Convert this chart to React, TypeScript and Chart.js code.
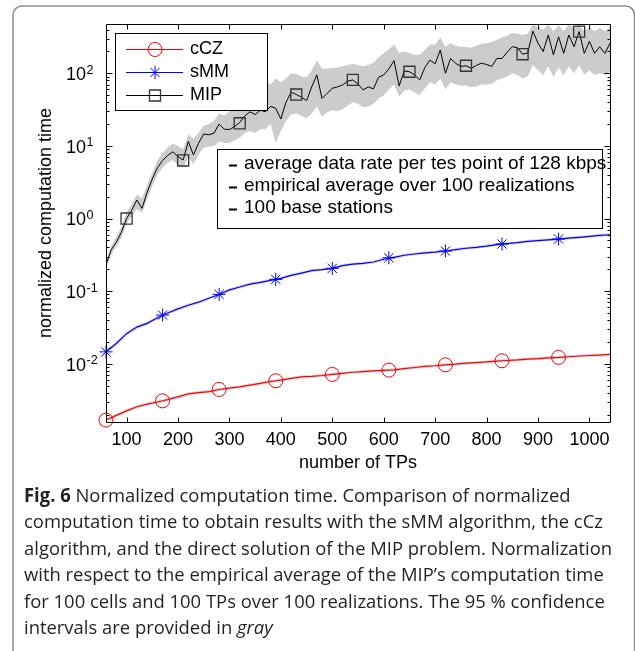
import React, { useEffect, useRef } from "react";
import { Chart, registerables } from "chart.js";

Chart.register(...registerables);

// ---------- data ----------
const tpMip = [
  60, 70, 80, 90, 100, 110, 120, 130, 140, 150, 160, 170, 180, 190, 200, 210, 220, 230, 240, 250,
  260, 270, 280, 290, 300, 310, 320, 330, 340, 350, 360, 370, 380, 390, 400, 410, 420, 430, 440, 450,
  460, 470, 480, 490, 500, 510, 520, 530, 540, 550, 560, 570, 580, 590, 600, 610, 620, 630, 640, 650,
  660, 670, 680, 690, 700, 710, 720, 730, 740, 750, 760, 770, 780, 790, 800, 810, 820, 830, 840, 850,
  860, 870, 880, 890, 900, 910, 920, 930, 940, 950, 960, 970, 980, 990, 1000, 1010, 1020, 1030, 1040,
];
const mipMean = [
  0.23, 0.37, 0.47, 0.65, 1.0, 1.3, 1.8, 1.38, 2.3, 3.5, 5.0, 6.3, 7.4, 8.3, 7.1, 6.4, 11.5, 7.5, 10.9, 14.6,
  14.2, 15.0, 20, 17, 16.8, 18.5, 21, 26, 29.5, 27, 31, 29.5, 35, 33, 23.5, 40, 55, 51, 47, 42,
  65, 95, 45, 53, 62, 65, 69, 78, 81, 71, 59, 65, 61, 88, 95, 115, 149, 67, 108, 105,
  95, 81, 120, 152, 135, 209, 100, 160, 137, 124, 127, 117, 128, 138, 132, 124, 160, 160, 195, 232,
  225, 183, 190, 380, 260, 199, 337, 179, 318, 188, 337, 232, 375, 188, 276, 188, 232, 188, 259,
];
const mipUpper = [
  0.26, 0.42, 0.56, 0.78, 1.2, 1.6, 2.15, 1.9, 2.9, 4.3, 6.3, 8.0, 9.5, 10.8, 10.0, 9.0, 14.5, 12.5, 15, 19,
  20, 22, 28, 26, 30, 33, 40, 48, 55, 58, 65, 80, 70, 85, 75, 85, 100, 98, 90, 88,
  110, 150, 115, 115, 118, 120, 125, 130, 135, 130, 125, 130, 140, 165, 190, 215, 250, 190, 200, 190,
  180, 180, 210, 250, 250, 310, 230, 260, 240, 230, 230, 225, 240, 255, 260, 270, 290, 310, 330, 360,
  350, 340, 350, 470, 430, 400, 470, 380, 460, 380, 470, 420, 470, 380, 430, 380, 420, 380, 420,
];
const mipLower = [
  0.205, 0.32, 0.41, 0.55, 0.84, 1.08, 1.35, 1.2, 1.85, 2.8, 4.0, 5.0, 5.9, 6.4, 5.4, 5.0, 7.0, 5.6, 7.6, 9.5,
  9.8, 10, 11.5, 11, 11, 12, 13, 15, 16, 15, 17, 17, 20, 11, 16, 22, 27, 28, 26, 24,
  28, 35, 25, 29, 31, 30, 32, 36, 40, 38, 34, 35, 38, 45, 50, 60, 70, 48, 58, 60,
  55, 50, 62, 75, 70, 85, 60, 75, 70, 68, 68, 64, 66, 70, 70, 72, 80, 85, 90, 100,
  95, 85, 90, 130, 110, 95, 125, 88, 120, 95, 125, 100, 130, 95, 110, 95, 100, 95, 105,
];

const tpSmooth = [
  60, 80, 100, 120, 140, 160, 180, 200, 220, 240, 260, 280, 300, 320, 340, 360, 380, 400, 420, 440,
  460, 480, 500, 520, 540, 560, 580, 600, 620, 640, 660, 680, 700, 720, 740, 760, 780, 800, 820, 840,
  860, 880, 900, 920, 940, 960, 980, 1000, 1020, 1040,
];
const smmMean = [
  0.0146, 0.019, 0.026, 0.032, 0.036, 0.043, 0.05, 0.057, 0.064, 0.0705, 0.08, 0.09, 0.104, 0.114, 0.125, 0.132, 0.141, 0.15, 0.165, 0.177,
  0.192, 0.198, 0.206, 0.225, 0.236, 0.242, 0.252, 0.275, 0.292, 0.312, 0.325, 0.336, 0.345, 0.357, 0.373, 0.39, 0.402, 0.418, 0.438, 0.452,
  0.465, 0.485, 0.497, 0.51, 0.522, 0.538, 0.551, 0.567, 0.585, 0.598,
];
const cczMean = [
  0.00168, 0.00195, 0.00225, 0.00256, 0.00278, 0.00298, 0.00322, 0.00351, 0.00385, 0.004, 0.00414, 0.00443, 0.00462, 0.00482, 0.0051, 0.00537, 0.0057, 0.00595, 0.0063, 0.0066,
  0.00672, 0.0069, 0.00714, 0.0074, 0.00765, 0.0078, 0.008, 0.0081, 0.00825, 0.0086, 0.0089, 0.0092, 0.0094, 0.00968, 0.0099, 0.0102, 0.0104, 0.0106, 0.0109, 0.0111,
  0.0113, 0.0116, 0.0118, 0.0121, 0.01225, 0.0125, 0.0128, 0.013, 0.0132, 0.01346,
];

const tpMarkersA = [60, 170, 280, 390, 500, 610, 720, 830, 940];
const cczMarkers = [0.00168, 0.00309, 0.00443, 0.00583, 0.00714, 0.00818, 0.00968, 0.011, 0.01225];
const smmMarkers = [0.0146, 0.0469, 0.0904, 0.1455, 0.206, 0.288, 0.357, 0.446, 0.522];
const tpMarkersB = [100, 210, 320, 430, 540, 650, 760, 870, 980];
const mipMarkers = [1.0, 6.3, 20.5, 51, 81, 105, 127, 183, 375];

const xTicks = [100, 200, 300, 400, 500, 600, 700, 800, 900, 1000];
const yDecades = [-2, -1, 0, 1, 2];
const legendLabels = ["cCZ", "sMM", "MIP"];
const noteLines = [
  "average data rate per tes point of 128 kbps",
  "empirical average over 100 realizations",
  "100 base stations",
];
const xTitle = "number of TPs";
const yTitle = "normalized computation time";

const FONT = '"Liberation Sans", Arial, Helvetica, sans-serif';
const RED = "#ff0000";
const BLUE = "#0000ff";
const MIPC = "#333333";

const pts = (xs: number[], ys: number[]) => xs.map((x, i) => ({ x, y: ys[i] }));

function drawMarker(ctx: CanvasRenderingContext2D, kind: string, x: number, y: number) {
  ctx.save();
  ctx.beginPath();
  if (kind === "circle") {
    ctx.strokeStyle = RED;
    ctx.lineWidth = 1;
    ctx.arc(x, y, 7, 0, Math.PI * 2);
  } else if (kind === "star") {
    ctx.strokeStyle = BLUE;
    ctx.lineWidth = 1;
    const r = 6.5;
    const d = r * Math.SQRT1_2;
    ctx.moveTo(x - r, y); ctx.lineTo(x + r, y);
    ctx.moveTo(x, y - r); ctx.lineTo(x, y + r);
    ctx.moveTo(x - d, y - d); ctx.lineTo(x + d, y + d);
    ctx.moveTo(x - d, y + d); ctx.lineTo(x + d, y - d);
  } else {
    ctx.strokeStyle = MIPC;
    ctx.lineWidth = 1.3;
    ctx.rect(x - 5.5, y - 5.5, 11, 11);
  }
  ctx.stroke();
  ctx.restore();
}

const decoPlugin = {
  id: "deco",
  beforeDraw(chart: any) {
    const ctx: CanvasRenderingContext2D = chart.ctx;
    ctx.save();
    ctx.fillStyle = "#ffffff";
    ctx.fillRect(0, 0, chart.width, chart.height);
    ctx.strokeStyle = "#8c8c8c";
    ctx.lineWidth = 1.5;
    const x0 = 13, y0 = 6, x1 = 634.5, r = 9;
    ctx.beginPath();
    ctx.moveTo(x0, 700);
    ctx.lineTo(x0, y0 + r);
    ctx.arcTo(x0, y0, x0 + r, y0, r);
    ctx.lineTo(x1 - r, y0);
    ctx.arcTo(x1, y0, x1, y0 + r, r);
    ctx.lineTo(x1, 700);
    ctx.stroke();
    ctx.restore();
  },
  afterDraw(chart: any) {
    const ctx: CanvasRenderingContext2D = chart.ctx;
    const xs = chart.scales.x;
    const ys = chart.scales.y;
    const { left, right, top, bottom } = chart.chartArea;
    const L = Math.round(left) + 0.5, R = Math.round(right) + 0.5;
    const T = Math.round(top) + 0.5, B = Math.round(bottom) + 0.5;
    ctx.save();
    ctx.strokeStyle = "#000";
    ctx.lineWidth = 1;
    ctx.beginPath();
    ctx.rect(L, T, R - L, B - T);
    for (const v of xTicks) {
      const px = Math.round(xs.getPixelForValue(v)) + 0.5;
      ctx.moveTo(px, B); ctx.lineTo(px, B - 5);
      ctx.moveTo(px, T); ctx.lineTo(px, T + 5);
    }
    for (let d = -3; d <= 2; d++) {
      for (let m = 1; m <= 9; m++) {
        const v = m * Math.pow(10, d);
        if (v < ys.min || v > ys.max) continue;
        const py = Math.round(ys.getPixelForValue(v)) + 0.5;
        const len = m === 1 ? 6 : 3;
        ctx.moveTo(L, py); ctx.lineTo(L + len, py);
        ctx.moveTo(R, py); ctx.lineTo(R - len, py);
      }
    }
    ctx.stroke();

    ctx.fillStyle = "#000";
    ctx.font = `18px ${FONT}`;
    ctx.textAlign = "center";
    ctx.textBaseline = "middle";
    for (const v of xTicks) {
      ctx.fillText(String(v), xs.getPixelForValue(v), 440);
    }
    ctx.textBaseline = "alphabetic";
    for (const d of yDecades) {
      const py = ys.getPixelForValue(Math.pow(10, d));
      ctx.font = `18px ${FONT}`;
      ctx.textAlign = "right";
      ctx.fillText("10", 86, py + 6.8);
      ctx.font = `12.5px ${FONT}`;
      ctx.textAlign = "left";
      ctx.fillText(String(d), 86.5, py + 0.5);
    }

    ctx.font = `18px ${FONT}`;
    ctx.textAlign = "center";
    ctx.textBaseline = "middle";
    ctx.fillText(xTitle, (left + right) / 2, 463);
    ctx.save();
    ctx.translate(46, (top + bottom) / 2);
    ctx.rotate(-Math.PI / 2);
    ctx.fillText(yTitle, 0, 0);
    ctx.restore();

    // legend
    ctx.fillStyle = "#fff";
    ctx.fillRect(115.5, 33.5, 152, 77);
    ctx.strokeStyle = "#000";
    ctx.lineWidth = 1;
    ctx.strokeRect(115.5, 33.5, 152, 77);
    const legColors = [RED, BLUE, "#000"];
    const legKinds = ["circle", "star", "rect"];
    legendLabels.forEach((lab, i) => {
      const y = 49 + i * 23;
      ctx.beginPath();
      ctx.strokeStyle = legColors[i];
      ctx.lineWidth = 1;
      ctx.moveTo(126, y + 0.5);
      ctx.lineTo(183, y + 0.5);
      ctx.stroke();
      drawMarker(ctx, legKinds[i], 155, y + 0.5);
      ctx.fillStyle = "#000";
      ctx.font = `18px ${FONT}`;
      ctx.textAlign = "left";
      ctx.textBaseline = "middle";
      ctx.fillText(lab, 190, y);
    });

    // note box
    ctx.fillStyle = "#fff";
    ctx.fillRect(217.5, 149.5, 385, 79);
    ctx.strokeStyle = "#000";
    ctx.lineWidth = 1;
    ctx.strokeRect(217.5, 149.5, 385, 79);
    noteLines.forEach((t, i) => {
      const y = 165 + i * 22;
      ctx.beginPath();
      ctx.lineWidth = 2;
      ctx.moveTo(229, y + 0.5);
      ctx.lineTo(237, y + 0.5);
      ctx.stroke();
      ctx.fillStyle = "#000";
      ctx.font = `19px ${FONT}`;
      ctx.textAlign = "left";
      ctx.textBaseline = "middle";
      ctx.fillText(t, 244, y - 1);
    });
    ctx.restore();
  },
};

const captionTargets = [552, 576, 586, 584, 576];

export default function App() {
  const canvasRef = useRef<HTMLCanvasElement>(null);
  const capRef = useRef<HTMLDivElement>(null);

  useEffect(() => {
    const canvas = canvasRef.current;
    if (!canvas) return;
    const chart = new Chart(canvas, {
      type: "line",
      data: {
        datasets: [
          { label: "mipUpper", data: pts(tpMip, mipUpper), borderWidth: 0, borderColor: "rgba(0,0,0,0)", backgroundColor: "#cccccc", pointRadius: 0, fill: "+1", order: 10 },
          { label: "mipLower", data: pts(tpMip, mipLower), borderWidth: 0, borderColor: "rgba(0,0,0,0)", pointRadius: 0, fill: false, order: 10 },
          { label: "cczShadow", data: pts(tpSmooth, cczMean), borderColor: "rgba(190,190,190,0.6)", borderWidth: 3, pointRadius: 0, fill: false, order: 8 },
          { label: "smmShadow", data: pts(tpSmooth, smmMean), borderColor: "rgba(190,190,190,0.6)", borderWidth: 3, pointRadius: 0, fill: false, order: 8 },
          { label: "cCZ", data: pts(tpSmooth, cczMean), borderColor: RED, borderWidth: 1.2, pointRadius: 0, fill: false, order: 5 },
          { label: "sMM", data: pts(tpSmooth, smmMean), borderColor: BLUE, borderWidth: 1.2, pointRadius: 0, fill: false, order: 5 },
          { label: "MIP", data: pts(tpMip, mipMean), borderColor: "#000", borderWidth: 1, pointRadius: 0, fill: false, order: 4 },
          { label: "cCZ markers", data: pts(tpMarkersA, cczMarkers), showLine: false, pointStyle: "circle", pointRadius: 7, pointBorderColor: RED, pointBackgroundColor: "rgba(0,0,0,0)", pointBorderWidth: 1, clip: false, order: 1 },
          { label: "sMM markers", data: pts(tpMarkersA, smmMarkers), showLine: false, pointStyle: "star", pointRadius: 6.5, pointBorderColor: BLUE, pointBackgroundColor: "rgba(0,0,0,0)", pointBorderWidth: 1, clip: false, order: 1 },
          { label: "MIP markers", data: pts(tpMarkersB, mipMarkers), showLine: false, pointStyle: "rect", pointRadius: 7.8, pointBorderColor: MIPC, pointBackgroundColor: "rgba(0,0,0,0)", pointBorderWidth: 1.3, clip: false, order: 1 },
        ] as any,
      },
      options: {
        animation: false,
        responsive: false,
        events: [],
        layout: { padding: { left: 106, right: 25, top: 24, bottom: 229 } },
        plugins: { legend: { display: false }, tooltip: { enabled: false }, title: { display: false } },
        elements: { line: { tension: 0 } },
        scales: {
          x: { type: "linear", min: 60, max: 1040, display: false },
          y: { type: "logarithmic", min: 0.00158, max: 477, display: false },
        },
      } as any,
      plugins: [decoPlugin],
    });
    return () => chart.destroy();
  }, []);

  useEffect(() => {
    const el = capRef.current;
    if (!el) return;
    const spans = Array.from(el.querySelectorAll("span.ln")) as HTMLElement[];
    let nat = 0;
    let tgt = 0;
    spans.forEach((s, i) => {
      if (i < captionTargets.length) {
        nat += s.getBoundingClientRect().width;
        tgt += captionTargets[i];
      }
    });
    const k = nat > 0 ? tgt / nat : 1;
    spans.forEach((s) => {
      s.style.transform = `scaleX(${k})`;
    });
  }, []);

  const lineStyle: React.CSSProperties = {
    display: "inline-block",
    whiteSpace: "nowrap",
    transformOrigin: "0 0",
  };

  return (
    <div style={{ position: "absolute", left: 0, top: 0, width: 635, height: 651, background: "#fff", overflow: "hidden" }}>
      <canvas ref={canvasRef} width={635} height={651} style={{ position: "absolute", left: 0, top: 0, width: 635, height: 651 }} />
      <div
        ref={capRef}
        style={{
          position: "absolute",
          left: 24,
          top: 481.5,
          fontFamily: '"Open Sans", "Noto Sans", sans-serif',
          fontSize: 18.7,
          lineHeight: "26.5px",
          color: "#231f20",
        }}
      >
        <div><span className="ln" style={lineStyle}><b>Fig. 6</b> Normalized computation time. Comparison of normalized</span></div>
        <div><span className="ln" style={lineStyle}>computation time to obtain results with the sMM algorithm, the cCz</span></div>
        <div><span className="ln" style={lineStyle}>algorithm, and the direct solution of the MIP problem. Normalization</span></div>
        <div><span className="ln" style={lineStyle}>with respect to the empirical average of the MIP’s computation time</span></div>
        <div><span className="ln" style={lineStyle}>for 100 cells and 100 TPs over 100 realizations. The 95 % confidence</span></div>
        <div><span className="ln" style={lineStyle}>intervals are provided in <i>gray</i></span></div>
      </div>
    </div>
  );
}
